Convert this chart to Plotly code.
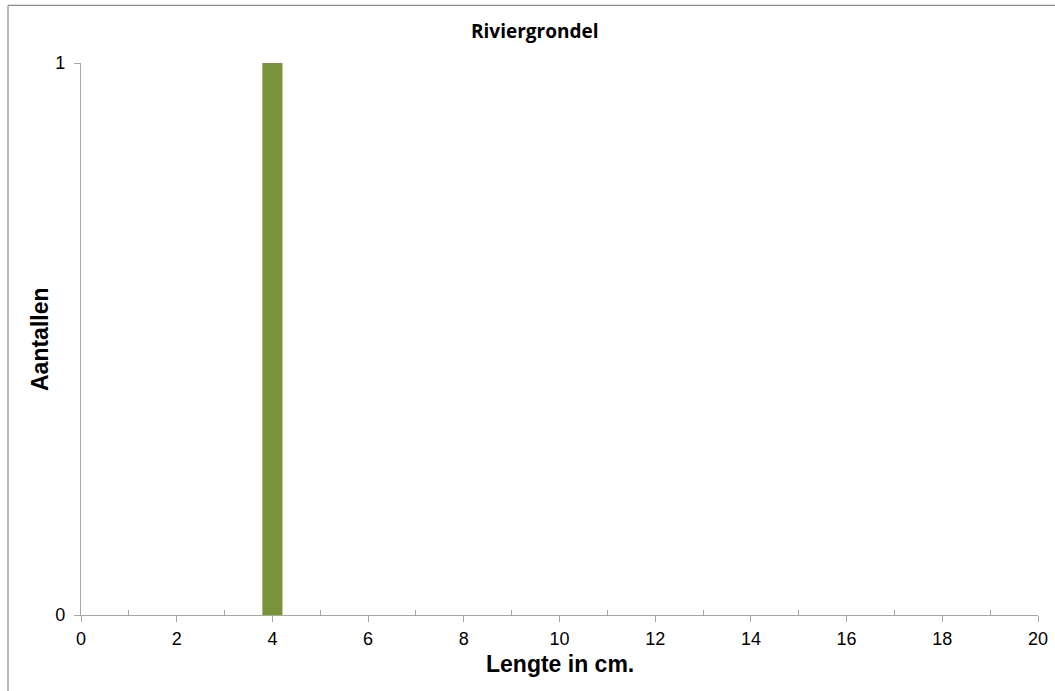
import plotly.graph_objects as go

# Length distribution of the river goby catch
lengths_cm = [4]
counts = [1]

x_ticks = [0, 2, 4, 6, 8, 10, 12, 14, 16, 18, 20]
y_ticks = [0, 1]

title_text = "Riviergrondel"
x_title = "Lengte in cm."
y_title = "Aantallen"

axis_grey = "#a6a6a6"
bar_green = "#77933c"

fig = go.Figure()
fig.add_trace(go.Bar(x=lengths_cm, y=counts, width=0.42,
                     marker=dict(color=bar_green, line=dict(width=0)),
                     hoverinfo="x+y"))

fig.update_layout(
    width=1055, height=691,
    margin=dict(l=81, r=17, t=63, b=76, autoexpand=False),
    paper_bgcolor="white", plot_bgcolor="white",
    showlegend=False,
    font=dict(family="Liberation Sans, Arial, sans-serif", color="black", size=18),
    annotations=[
        dict(text="<b>" + title_text + "</b>", xref="paper", yref="paper",
             x=(534 - 81) / 957, y=1 + 32 / 551,
             xanchor="center", yanchor="middle", showarrow=False,
             font=dict(family="Open Sans, sans-serif", size=19, color="black")),
        dict(text="<b>" + x_title + "</b>", xref="paper", yref="paper",
             x=0.5, y=-49 / 551, xanchor="center", yanchor="middle", showarrow=False,
             font=dict(size=23)),
        dict(text="<b>" + y_title + "</b>", xref="paper", yref="paper",
             x=-41 / 957, y=0.5, xanchor="center", yanchor="middle", showarrow=False,
             textangle=-90, font=dict(size=23)),
    ],
    shapes=[
        # outer chart frame (left and top edges visible)
        dict(type="line", xref="paper", yref="paper",
             x0=-73 / 957, x1=-73 / 957, y0=-0.2, y1=1 + 57.5 / 551,
             line=dict(color="#8c8c8c", width=1.2)),
        dict(type="line", xref="paper", yref="paper",
             x0=-73 / 957, x1=1.05, y0=1 + 57.5 / 551, y1=1 + 57.5 / 551,
             line=dict(color="#8c8c8c", width=1.2)),
    ],
)

fig.update_xaxes(
    range=[0, 20], tickvals=x_ticks, ticktext=[str(v) for v in x_ticks],
    showgrid=False, zeroline=False, automargin=False,
    showline=True, linecolor=axis_grey, linewidth=1.3,
    ticks="outside", ticklen=6, tickcolor=axis_grey, tickwidth=1,
    ticklabelstandoff=1,
    minor=dict(tickvals=[1, 3, 5, 7, 9, 11, 13, 15, 17, 19], ticks="inside",
               ticklen=5, tickcolor=axis_grey, tickwidth=1, showgrid=False),
    tickfont=dict(size=18, color="black"),
)
fig.update_yaxes(
    range=[0, 1], tickvals=y_ticks, ticktext=[str(v) for v in y_ticks],
    showgrid=True, gridcolor=axis_grey, gridwidth=1.3, zeroline=False,
    automargin=False,
    showline=True, linecolor=axis_grey, linewidth=1.3,
    ticks="outside", ticklen=6, tickcolor=axis_grey, tickwidth=1,
    ticklabelstandoff=5,
    tickfont=dict(size=18, color="black"),
)

fig.write_html("out.html")
